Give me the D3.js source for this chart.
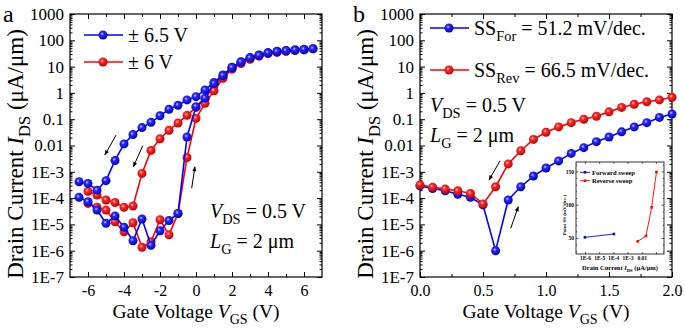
<!DOCTYPE html>
<html>
<head>
<meta charset="utf-8">
<script src="https://cdn.jsdelivr.net/npm/d3@7/dist/d3.min.js"></script>
<style>
body { margin: 0; background: #fff; }
svg text { font-family: "Liberation Serif", "DejaVu Serif", serif; white-space: pre; }
</style>
</head>
<body>
<svg id="chart" width="685" height="328"></svg>
<script>
// Panel a: gate voltage steps and currents (uA/um)
var vgsWide = [-6.5, -6, -5.5, -5, -4.5, -4, -3.5, -3, -2.5, -2, -1.5, -1, -0.5, 0,
    0.5, 1, 1.5, 2, 2.5, 3, 3.5, 4, 4.5, 5, 5.5, 6, 6.5];
var vgsNarrow = [-6, -5.5, -5, -4.5, -4, -3.5, -3, -2.5, -2, -1.5, -1, -0.5, 0,
    0.5, 1, 1.5, 2, 2.5, 3, 3.5, 4, 4.5, 5, 5.5, 6];
var blueRevA = [4.2e-4, 3.6e-4, 2.0e-4, 4.6e-4, 2.7e-3, 0.0115, 0.026, 0.048, 0.076, 0.135,
    0.24, 0.34, 0.54, 0.72, 1.3, 2.5, 4.8, 9.5, 15.4, 22, 27.6, 34, 38, 40.5, 43, 45.4, 48];
var blueFwdA = [1.07e-4, 7.3e-5, 3.5e-5, 1.1e-5, 2.1e-5, 7.8e-6, 2.4e-6, 1.6e-5, 1.6e-6, 5.7e-6,
    1.4e-5, 2.6e-5, 0.021, 0.30, 0.63, 2.3, 4.6, 9.2, 15, 21.5, 27, 33, 37.5, 40, 43, 45, 47.5];
var redRevA = [1.8e-4, 1.3e-4, 8.5e-5, 6.8e-5, 4.5e-5, 5e-5, 8.7e-4, 6.5e-3, 0.018, 0.038,
    0.072, 0.14, 0.28, 0.6, 1.9, 4.0, 8.6, 14, 20, 26, 32, 36, 39, 41.5, 44];
var redFwdA = [6.3e-5, 4.5e-5, 3.5e-5, 1.26e-5, 5.2e-6, 1.15e-5, 1.35e-6, 2.2e-6, 1.5e-5, 4e-6,
    2.6e-5, 3.5e-3, 0.107, 0.4, 1.2, 3.6, 8, 13, 19, 25, 31, 35, 38, 41, 43];

// Panel b
var vgsB = [0, 0.1, 0.2, 0.3, 0.4, 0.5, 0.6, 0.7, 0.8, 0.9, 1.0, 1.1, 1.2, 1.3, 1.4, 1.5,
    1.6, 1.7, 1.8, 1.9, 2.0];
var forwardB = [2.9e-4, 2.3e-4, 1.9e-4, 1.4e-4, 1.07e-4, 5.5e-5, 1.0e-6, 8.5e-5, 2.7e-4, 6.9e-4,
    1.4e-3, 2.6e-3, 5e-3, 8.3e-3, 0.014, 0.021, 0.033, 0.051, 0.074, 0.117, 0.158];
var reverseB = [3.2e-4, 2.6e-4, 2.2e-4, 1.9e-4, 1.5e-4, 6e-5, 2.7e-4, 2e-3, 6.3e-3, 0.017,
    0.032, 0.051, 0.074, 0.1, 0.13, 0.19, 0.28, 0.37, 0.46, 0.54, 0.68];

// Inset: point SS vs drain current
var insetFwdI = [1e-6, 1.1e-4];
var insetFwdSS = [51, 56];
var insetRevI = [5.2e-3, 0.02, 0.05, 0.11];
var insetRevSS = [45, 53, 96, 149];

var yTickValues = [1e-7, 1e-6, 1e-5, 1e-4, 1e-3, 0.01, 0.1, 1, 10, 100, 1000];
var yTickLabels = ['1E-7', '1E-6', '1E-5', '1E-4', '1E-3', '0.01', '0.1', '1', '10', '100', '1000'];
var xTicksA = [-6, -4, -2, 0, 2, 4, 6];
var xTickLabelsA = ['-6', '-4', '-2', '0', '2', '4', '6'];
var xTicksB = [0, 0.5, 1, 1.5, 2];
var xTickLabelsB = ['0.0', '0.5', '1.0', '1.5', '2.0'];
var insetXTicks = [1e-6, 1e-5, 1e-4, 1e-3, 0.01, 0.1];
var insetXLabels = ['1E-6', '1E-5', '1E-4', '1E-3', '0.01', ''];
var insetYTicks = [50, 100, 150];

var BLUE = '#0000ff', RED = '#ff0000';
var SERIF = '"Liberation Serif", "DejaVu Serif", serif';
var svg = d3.select('#chart');
var defs = svg.append('defs');

function addBallGradient(id, light, mid, dark) {
    var g = defs.append('radialGradient').attr('id', id)
        .attr('cx', '40%').attr('cy', '38%').attr('r', '62%');
    g.append('stop').attr('offset', '0%').attr('stop-color', light);
    g.append('stop').attr('offset', '30%').attr('stop-color', mid);
    g.append('stop').attr('offset', '100%').attr('stop-color', dark);
}
addBallGradient('ballBlue', '#d8d8ff', '#2a2aff', '#0000c0');
addBallGradient('ballRed', '#ffd8d8', '#ff2a2a', '#c00000');

defs.append('marker').attr('id', 'arrowHead')
    .attr('viewBox', '0 0 10 10').attr('refX', 9).attr('refY', 5)
    .attr('markerWidth', 6).attr('markerHeight', 5).attr('orient', 'auto')
    .append('path').attr('d', 'M0,1 L10,5 L0,9 z').attr('fill', '#000');

// text with optional italic / subscript pieces
function richText(parent, x, y, size, parts, anchor) {
    var t = parent.append('text').attr('x', x).attr('y', y)
        .attr('font-family', SERIF)
        .attr('font-size', size).attr('text-anchor', anchor || 'start');
    var shifted = false;
    parts.forEach(function(p) {
        var s = t.append('tspan').text(p.t);
        if(p.i) s.attr('font-style', 'italic');
        if(p.sub) {
            s.attr('font-size', size * 0.72).attr('dy', size * 0.32);
            shifted = true;
        } else if(shifted) {
            s.attr('dy', -size * 0.32);
            shifted = false;
        }
    });
    return t;
}

function drawPanel(cfg) {
    var g = svg.append('g');
    var x = d3.scaleLinear().domain(cfg.xDomain).range([cfg.left, cfg.left + 252]);
    var y = d3.scaleLog().domain([1e-7, 1000]).range([277, 14]);

    var yMinor = [];
    yTickValues.slice(0, -1).forEach(function(d) {
        for(var k = 2; k < 10; ++k) yMinor.push(d * k);
    });

    function styleAxis(sel) {
        sel.attr('font-family', SERIF);
        sel.select('.domain').remove();
        sel.selectAll('line').attr('stroke', '#000').attr('stroke-width', 1);
        sel.selectAll('text').attr('font-family', SERIF)
            .attr('font-size', 17).attr('fill', '#000');
    }

    g.append('g').attr('transform', 'translate(' + cfg.left + ',0)')
        .call(d3.axisLeft(y).tickValues(yTickValues)
            .tickFormat(function(d, i) { return yTickLabels[i]; })
            .tickSize(-5).tickPadding(6))
        .call(styleAxis);
    g.append('g').attr('transform', 'translate(' + cfg.left + ',0)')
        .call(d3.axisLeft(y).tickValues(yMinor).tickFormat('').tickSize(-2.5))
        .call(styleAxis);
    g.append('g').attr('transform', 'translate(' + (cfg.left + 252) + ',0)')
        .call(d3.axisRight(y).tickValues(yTickValues).tickFormat('').tickSize(-5))
        .call(styleAxis);
    g.append('g').attr('transform', 'translate(' + (cfg.left + 252) + ',0)')
        .call(d3.axisRight(y).tickValues(yMinor).tickFormat('').tickSize(-2.5))
        .call(styleAxis);

    g.append('g').attr('transform', 'translate(0,277)')
        .call(d3.axisBottom(x).tickValues(cfg.xTicks)
            .tickFormat(function(d, i) { return cfg.xLabels[i]; })
            .tickSize(-5).tickPadding(8))
        .call(styleAxis)
        .selectAll('text').attr('font-size', 16);
    g.append('g').attr('transform', 'translate(0,277)')
        .call(d3.axisBottom(x).tickValues(cfg.xMinor).tickFormat('').tickSize(-3))
        .call(styleAxis);
    g.append('g').attr('transform', 'translate(0,14)')
        .call(d3.axisTop(x).tickValues(cfg.xTicks).tickFormat('').tickSize(-5))
        .call(styleAxis);
    g.append('g').attr('transform', 'translate(0,14)')
        .call(d3.axisTop(x).tickValues(cfg.xMinor).tickFormat('').tickSize(-3))
        .call(styleAxis);

    g.append('rect').attr('x', cfg.left).attr('y', 14).attr('width', 252).attr('height', 263)
        .attr('fill', 'none').attr('stroke', '#000').attr('stroke-width', 1.2);

    var line = d3.line()
        .x(function(d) { return x(d[0]); })
        .y(function(d) { return y(d[1]); });

    cfg.series.forEach(function(s) {
        var pts = d3.zip(s.x, s.y);
        g.append('path').datum(pts).attr('d', line)
            .attr('fill', 'none').attr('stroke', s.color).attr('stroke-width', 1.6);
        g.selectAll(null).data(pts).enter().append('circle')
            .attr('cx', function(d) { return x(d[0]); })
            .attr('cy', function(d) { return y(d[1]); })
            .attr('r', 4.5).attr('fill', s.ball);
    });

    cfg.arrows.forEach(function(a) {
        g.append('line')
            .attr('x1', x(a.from[0])).attr('y1', y(a.from[1]))
            .attr('x2', x(a.to[0])).attr('y2', y(a.to[1]))
            .attr('stroke', '#000').attr('stroke-width', 1)
            .attr('marker-end', 'url(#arrowHead)');
    });

    // legend
    cfg.legend.forEach(function(l) {
        g.append('line').attr('x1', l.x).attr('x2', l.x + 39).attr('y1', l.y).attr('y2', l.y)
            .attr('stroke', l.color).attr('stroke-width', 1.6);
        g.append('circle').attr('cx', l.x + 19).attr('cy', l.y).attr('r', 4.5).attr('fill', l.ball);
        richText(g, l.x + 44, l.y + 7, 20, l.parts);
    });

    richText(g, cfg.noteX, cfg.noteY, 20, [{t: 'V', i: true}, {t: 'DS', sub: true}, {t: ' = 0.5 V'}]);
    richText(g, cfg.noteX, cfg.noteY + 30, 20, [{t: 'L', i: true}, {t: 'G', sub: true}, {t: ' = 2 \u03bcm'}]);

    // axis titles
    richText(g, cfg.left + 126, 318, 19.5,
        [{t: 'Gate Voltage '}, {t: 'V', i: true}, {t: 'GS', sub: true}, {t: ' (V)'}], 'middle');
    var yt = richText(g, 0, 0, 23,
        [{t: 'Drain Current '}, {t: 'I', i: true}, {t: 'DS', sub: true}, {t: ' (\u03bcA/\u03bcm)'}], 'middle');
    yt.attr('transform', 'translate(' + (cfg.left - 47) + ',154) rotate(-90)');

    g.append('text').attr('x', cfg.left - 67).attr('y', 22).attr('font-family', SERIF)
        .attr('font-size', 24).text(cfg.letter);
    return {x: x, y: y, g: g};
}

drawPanel({
    letter: 'a', left: 70, xDomain: [-7, 7],
    xTicks: xTicksA, xLabels: xTickLabelsA, xMinor: [-5, -3, -1, 1, 3, 5],
    series: [
        {x: vgsNarrow, y: redRevA, color: RED, ball: 'url(#ballRed)'},
        {x: vgsNarrow, y: redFwdA, color: RED, ball: 'url(#ballRed)'},
        {x: vgsWide, y: blueRevA, color: BLUE, ball: 'url(#ballBlue)'},
        {x: vgsWide, y: blueFwdA, color: BLUE, ball: 'url(#ballBlue)'}
    ],
    arrows: [
        {from: [-4.44, 0.025], to: [-5.06, 4.4e-3]},
        {from: [-2.96, 9.8e-3], to: [-3.48, 1.56e-3]},
        {from: [-0.24, 2.35e-4], to: [-0.06, 1.55e-3]}
    ],
    legend: [
        {x: 84, y: 35, color: BLUE, ball: 'url(#ballBlue)', parts: [{t: '\u00b1 6.5 V'}]},
        {x: 84, y: 62, color: RED, ball: 'url(#ballRed)', parts: [{t: '\u00b1 6 V'}]}
    ],
    noteX: 210, noteY: 218
});

drawPanel({
    letter: 'b', left: 420, xDomain: [0, 2],
    xTicks: xTicksB, xLabels: xTickLabelsB, xMinor: [0.25, 0.75, 1.25, 1.75],
    series: [
        {x: vgsB, y: forwardB, color: BLUE, ball: 'url(#ballBlue)'},
        {x: vgsB, y: reverseB, color: RED, ball: 'url(#ballRed)'}
    ],
    arrows: [
        {from: [0.635, 2.6e-3], to: [0.548, 4.9e-4]},
        {from: [0.72, 7.1e-6], to: [0.78, 4.7e-5]}
    ],
    legend: [
        {x: 430, y: 28, color: BLUE, ball: 'url(#ballBlue)',
            parts: [{t: 'SS'}, {t: 'For', sub: true}, {t: ' = 51.2 mV/dec.'}]},
        {x: 430, y: 70, color: RED, ball: 'url(#ballRed)',
            parts: [{t: 'SS'}, {t: 'Rev', sub: true}, {t: ' = 66.5 mV/dec.'}]}
    ],
    noteX: 430, noteY: 112
});

// inset
var inset = svg.append('g');
var ix = d3.scaleLog().domain([Math.pow(10, -6.63), Math.pow(10, -0.43)]).range([576, 664]);
var iy = d3.scaleLinear().domain([26, 164]).range([254, 162]);
inset.append('rect').attr('x', 576).attr('y', 162).attr('width', 88).attr('height', 92)
    .attr('fill', '#fff').attr('stroke', '#000').attr('stroke-width', 0.8);

function insetAxis(sel) {
    sel.select('.domain').remove();
    sel.selectAll('line').attr('stroke', '#000').attr('stroke-width', 0.6);
    sel.selectAll('text').attr('font-family', SERIF)
        .attr('font-size', 5.5).attr('font-weight', 'bold').attr('fill', '#000');
}
var iyMinor = [30, 40, 60, 70, 80, 90, 110, 120, 130, 140, 160];
inset.append('g').attr('transform', 'translate(576,0)')
    .call(d3.axisLeft(iy).tickValues(insetYTicks).tickSize(-2.5).tickPadding(2)).call(insetAxis);
inset.append('g').attr('transform', 'translate(576,0)')
    .call(d3.axisLeft(iy).tickValues(iyMinor).tickFormat('').tickSize(-1.2)).call(insetAxis);
inset.append('g').attr('transform', 'translate(664,0)')
    .call(d3.axisRight(iy).tickValues(insetYTicks).tickFormat('').tickSize(-2.5)).call(insetAxis);
inset.append('g').attr('transform', 'translate(664,0)')
    .call(d3.axisRight(iy).tickValues(iyMinor).tickFormat('').tickSize(-1.2)).call(insetAxis);
inset.append('g').attr('transform', 'translate(0,254)')
    .call(d3.axisBottom(ix).tickValues(insetXTicks)
        .tickFormat(function(d, i) { return insetXLabels[i]; })
        .tickSize(-2).tickPadding(2.5)).call(insetAxis);
inset.append('g').attr('transform', 'translate(0,162)')
    .call(d3.axisTop(ix).tickValues(insetXTicks).tickFormat('').tickSize(-2)).call(insetAxis);

var iline = d3.line()
    .x(function(d) { return ix(d[0]); })
    .y(function(d) { return iy(d[1]); });
[[insetFwdI, insetFwdSS, BLUE], [insetRevI, insetRevSS, RED]].forEach(function(s) {
    var pts = d3.zip(s[0], s[1]);
    inset.append('path').datum(pts).attr('d', iline)
        .attr('fill', 'none').attr('stroke', s[2]).attr('stroke-width', 0.9);
    inset.selectAll(null).data(pts).enter().append('rect')
        .attr('x', function(d) { return ix(d[0]) - 1.3; })
        .attr('y', function(d) { return iy(d[1]) - 1.3; })
        .attr('width', 2.6).attr('height', 2.6).attr('fill', s[2]);
});

[['Forward sweep', BLUE, 172.3], ['Reverse sweep', RED, 180.7]].forEach(function(l) {
    inset.append('line').attr('x1', 580).attr('x2', 590).attr('y1', l[2]).attr('y2', l[2])
        .attr('stroke', l[1]).attr('stroke-width', 0.9);
    inset.append('rect').attr('x', 583.7).attr('y', l[2] - 1.3).attr('width', 2.6).attr('height', 2.6)
        .attr('fill', l[1]);
    inset.append('text').attr('x', 592).attr('y', l[2] + 2.2).attr('font-size', 6.5)
        .attr('font-family', SERIF).attr('font-weight', 'bold').text(l[0]);
});

richText(inset, 620, 270, 6.5,
    [{t: 'Drain Current '}, {t: 'I', i: true}, {t: 'DS', sub: true}, {t: ' (\u03bcA/\u03bcm)'}], 'middle')
    .attr('font-weight', 'bold');
inset.append('text').attr('transform', 'translate(566,215) rotate(-90)')
    .attr('font-family', SERIF)
    .attr('text-anchor', 'middle').attr('font-size', 5).attr('font-weight', 'bold')
    .text('Point SS (mV/dec.)');
</script>
</body>
</html>
